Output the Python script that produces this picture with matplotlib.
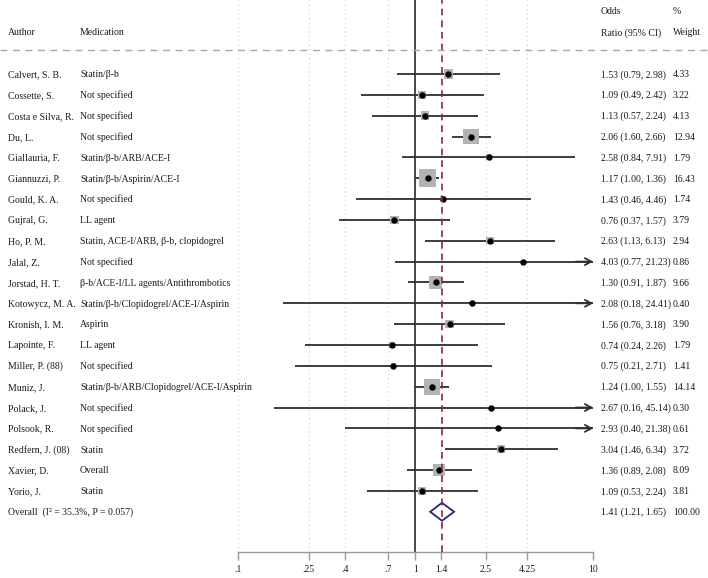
import matplotlib
matplotlib.use("Agg")
import matplotlib.pyplot as plt
import matplotlib.transforms as mtransforms
from matplotlib.lines import Line2D
from matplotlib.patches import Polygon

plt.rcParams['font.family'] = ['Liberation Serif', 'DejaVu Serif']

authors = ["Calvert, S. B.", "Cossette, S.", "Costa e Silva, R.", "Du, L.", "Giallauria, F.",
           "Giannuzzi, P.", "Gould, K. A.", "Gujral, G.", "Ho, P. M.", "Jalal, Z.",
           "Jorstad, H. T.", "Kotowycz, M. A.", "Kronish, I. M.", "Lapointe, F.", "Miller, P. (88)",
           "Muniz, J.", "Polack, J.", "Polsook, R.", "Redfern, J. (08)", "Xavier, D.", "Yorio, J."]
medications = ["Statin/β-b", "Not specified", "Not specified", "Not specified", "Statin/β-b/ARB/ACE-I",
               "Statin/β-b/Aspirin/ACE-I", "Not specified", "LL agent",
               "Statin, ACE-I/ARB, β-b, clopidogrel", "Not specified",
               "β-b/ACE-I/LL agents/Antithrombotics", "Statin/β-b/Clopidogrel/ACE-I/Aspirin",
               "Aspirin", "LL agent", "Not specified", "Statin/β-b/ARB/Clopidogrel/ACE-I/Aspirin",
               "Not specified", "Not specified", "Statin", "Overall", "Statin"]
odds = [1.53, 1.09, 1.13, 2.06, 2.58, 1.17, 1.43, 0.76, 2.63, 4.03, 1.30, 2.08, 1.56, 0.74, 0.75,
        1.24, 2.67, 2.93, 3.04, 1.36, 1.09]
lower = [0.79, 0.49, 0.57, 1.60, 0.84, 1.00, 0.46, 0.37, 1.13, 0.77, 0.91, 0.18, 0.76, 0.24, 0.21,
         1.00, 0.16, 0.40, 1.46, 0.89, 0.53]
upper = [2.98, 2.42, 2.24, 2.66, 7.91, 1.36, 4.46, 1.57, 6.13, 21.23, 1.87, 24.41, 3.18, 2.26, 2.71,
         1.55, 45.14, 21.38, 6.34, 2.08, 2.24]
weights = [4.33, 3.22, 4.13, 12.94, 1.79, 16.43, 1.74, 3.79, 2.94, 0.86, 9.66, 0.40, 3.90, 1.79, 1.41,
           14.14, 0.30, 0.61, 3.72, 8.09, 3.81]
overall_label = "Overall  (I² = 35.3%, P = 0.057)"
overall_or, overall_lo, overall_hi, overall_w = 1.41, 1.21, 1.65, 100.00
tick_vals = [0.1, 0.25, 0.4, 0.7, 1, 1.4, 2.5, 4.25, 10]
tick_labels = [".1", ".25", ".4", ".7", "1", "1.4", "2.5", "4.25", "10"]

W, H = 708, 578
fig = plt.figure(figsize=(W / 100, H / 100), dpi=100)
ax = fig.add_axes([238 / W, 1 - 552 / H, (593 - 238) / W, 552 / H])
ax.set_xscale('log')
ax.set_xlim(0.1, 10)
ax.set_ylim(22.93, -3.55)

# gridlines
for t in tick_vals:
    ax.axvline(t, color='#cccccc', lw=0.8, ls=(0, (1, 3)), zorder=0)
ax.axvline(1, color='#3a3a3a', lw=1.3, zorder=1)

txt_color = '#1a1a1a'
fs = 7.0
trans = mtransforms.blended_transform_factory(fig.transFigure, ax.transData)
x_auth, x_med, x_or, x_w = 8 / W, 80 / W, 601 / W, 673 / W
boff = 0.16


def put(x, y, s):
    ax.text(x, y + boff, s, transform=trans, fontsize=fs, va='baseline', ha='left', color=txt_color)


n = len(authors)
rows = list(range(n))
line_c = '#2e2e2e'
for i in rows:
    lo, hi = lower[i], upper[i]
    if hi > 10:
        ax.plot([lo, 10], [i, i], color=line_c, lw=1.3, zorder=2, solid_capstyle='butt')
        ax.annotate('', xy=(10, i), xytext=(8, i),
                    arrowprops=dict(arrowstyle='->,head_length=0.45,head_width=0.25',
                                    color=line_c, lw=1.3, shrinkA=0, shrinkB=0), zorder=2)
    else:
        ax.plot([lo, hi], [i, i], color=line_c, lw=1.3, zorder=2, solid_capstyle='butt')

sizes = [9.8 * w for w in weights]
ax.scatter(odds, rows, s=sizes, marker='s', color='#b3b3b3', edgecolors='none', zorder=3)
ax.plot(odds, rows, 'o', color='black', ms=3.6, zorder=4)

# overall diamond
yo = n
dh = 0.43
diamond = Polygon([(overall_lo, yo), (overall_or, yo - dh), (overall_hi, yo), (overall_or, yo + dh)],
                  closed=True, facecolor='white', edgecolor='#26267a', lw=1.3, zorder=3)
ax.add_patch(diamond)
ax.axvline(overall_or, color='#8b2a3a', lw=1.2, ls=(0, (4, 3)), zorder=5)

# texts
for i in rows:
    put(x_auth, i, authors[i])
    put(x_med, i, medications[i])
    put(x_or, i, f"{odds[i]:.2f} ({lower[i]:.2f}, {upper[i]:.2f})")
    put(x_w, i, f"{weights[i]:.2f}")

put(x_auth, yo, overall_label)
put(x_or, yo, f"{overall_or:.2f} ({overall_lo:.2f}, {overall_hi:.2f})")
put(x_w, yo, f"{overall_w:.2f}")

# header
put(x_auth, -2.01, "Author")
put(x_med, -2.01, "Medication")
put(x_or, -3.02, "Odds")
put(x_or, -2.01, "Ratio (95% CI)")
put(x_w, -3.02, "%")
put(x_w, -2.01, "Weight")

# dashed separator across the figure
fig.add_artist(Line2D([0, 1], [1 - 50 / H, 1 - 50 / H], transform=fig.transFigure,
                      color='#a8a8a8', lw=1.0, ls=(0, (5, 4))))

# axis styling
for s in ['top', 'right', 'left']:
    ax.spines[s].set_visible(False)
ax.spines['bottom'].set_color('#9a9a9a')
ax.spines['bottom'].set_linewidth(1.0)
ax.set_yticks([])
ax.set_xticks(tick_vals)
ax.set_xticklabels(tick_labels)
ax.xaxis.set_minor_locator(matplotlib.ticker.NullLocator())
ax.tick_params(axis='x', direction='out', length=6, width=1.0, color='#9a9a9a',
               labelsize=fs, labelcolor=txt_color, pad=3)
ax.patch.set_alpha(0)

fig.savefig("out.png", dpi=100)
